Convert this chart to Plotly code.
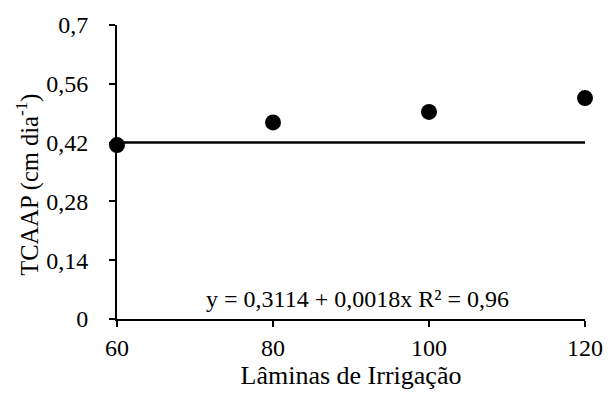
import plotly.graph_objects as go

# Irrigation depths and measured growth rate
laminas = [60, 80, 100, 120]
tcaap = [0.414, 0.468, 0.493, 0.526]

# Fitted line endpoints as drawn
linha_x = [60, 120]
linha_y = [0.42, 0.42]

y_ticks = [0, 0.14, 0.28, 0.42, 0.56, 0.7]
y_tick_labels = ["0", "0,14", "0,28", "0,42", "0,56", "0,7"]
x_ticks = [60, 80, 100, 120]
x_tick_labels = ["60", "80", "100", "120"]

equacao = "y = 0,3114 + 0,0018x R² = 0,96"
titulo_x = "Lâminas de Irrigação"
titulo_y = "TCAAP (cm dia<sup>-1</sup>)"

FONT = "Times New Roman, Liberation Serif, DejaVu Serif, serif"

fig = go.Figure()
fig.add_trace(go.Scatter(
    x=linha_x, y=linha_y, mode="lines",
    line=dict(color="black", width=2.5),
    hoverinfo="skip", showlegend=False, cliponaxis=False,
))
fig.add_trace(go.Scatter(
    x=laminas, y=tcaap, mode="markers",
    marker=dict(color="black", size=16),
    showlegend=False, cliponaxis=False,
))

# Regression equation inside the plot area
fig.add_annotation(
    x=90.8, y=0.047, xref="x", yref="y", text=equacao, showarrow=False,
    font=dict(family=FONT, size=24, color="black"),
)

# Vertical axis title
fig.add_annotation(
    x=-0.19, y=0.457, xref="paper", yref="paper", text=titulo_y,
    showarrow=False, textangle=-90, xanchor="center", yanchor="middle",
    font=dict(family=FONT, size=24.5, color="black"),
)

fig.update_layout(
    width=615, height=398,
    margin=dict(l=117, r=20, t=19, b=79),
    paper_bgcolor="white", plot_bgcolor="white",
    font=dict(family=FONT, size=24, color="black"),
    xaxis=dict(
        range=[60, 120], tickvals=x_ticks, ticktext=x_tick_labels,
        showgrid=False, zeroline=False, showline=True,
        linecolor="black", linewidth=2,
        ticks="outside", ticklen=6, tickwidth=2, tickcolor="black",
        tickfont=dict(family=FONT, size=24),
        title=dict(text=titulo_x, font=dict(family=FONT, size=26), standoff=6),
    ),
    yaxis=dict(
        range=[0, 0.7], tickvals=y_ticks, ticktext=y_tick_labels,
        showgrid=False, zeroline=False, showline=True,
        linecolor="black", linewidth=2,
        ticks="outside", ticklen=6, tickwidth=2, tickcolor="black",
        tickfont=dict(family=FONT, size=24),
        ticklabelstandoff=16,
    ),
)

fig.write_html("out.html")
